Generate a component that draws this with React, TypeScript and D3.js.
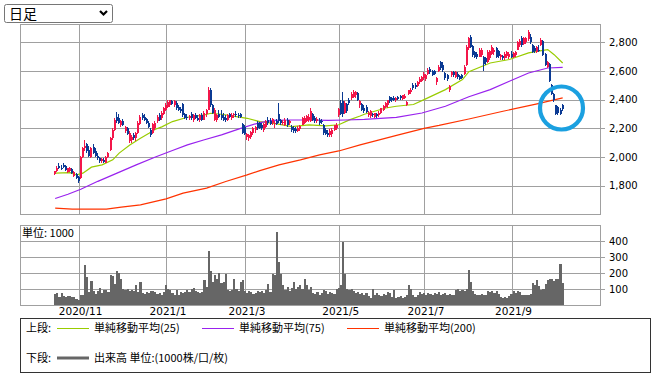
import React from "react";
import * as d3 from "d3";

// daily candles [open, high, low, close], 2020/10/16 .. 2021/10/07 (trading days)
const candles: [number, number, number, number][] = [
  [1880,1905,1875,1900],[1900,1935,1895,1925],[1935,1955,1915,1920],[1925,1945,1910,1915],[1945,1960,1925,1930],[1935,1945,1905,1910],[1895,1925,1890,1920],[1900,1930,1895,1925],[1915,1920,1880,1885],[1870,1900,1860,1895],
  [1880,1885,1845,1850],[1860,1870,1820,1835],[1850,2010,1845,2000],[2000,2070,1990,2060],[2060,2120,2040,2080],[2090,2100,2030,2040],[2050,2080,2000,2010],[2000,2070,1995,2060],[2070,2090,2020,2030],[2040,2060,2000,2010],
  [2010,2030,1980,1990],[1995,2000,1960,1970],[1975,1995,1955,1985],[1980,1995,1960,1965],[1960,2010,1955,2000],[2000,2035,1990,2030],[2050,2140,2045,2130],[2130,2200,2120,2190],[2190,2270,2180,2260],[2280,2315,2240,2250],
  [2270,2300,2230,2240],[2220,2260,2210,2250],[2250,2265,2215,2225],[2180,2215,2170,2210],[2200,2210,2150,2160],[2110,2180,2100,2170],[2120,2150,2100,2140],[2150,2170,2120,2130],[2130,2175,2110,2165],[2170,2250,2160,2240],
  [2230,2290,2220,2280],[2290,2310,2260,2270],[2280,2300,2250,2260],[2265,2275,2230,2240],[2240,2250,2200,2210],[2190,2200,2140,2150],[2170,2240,2160,2230],[2200,2250,2190,2240],[2250,2290,2240,2280],[2295,2310,2250,2260],
  [2270,2320,2260,2310],[2300,2350,2295,2340],[2330,2375,2320,2360],[2350,2395,2340,2385],[2360,2400,2350,2395],[2390,2400,2360,2370],[2360,2395,2350,2390],[2380,2390,2330,2340],[2350,2365,2320,2330],[2335,2350,2310,2320],
  [2370,2380,2280,2290],[2300,2310,2265,2275],[2280,2300,2260,2270],[2270,2290,2255,2285],[2300,2315,2260,2270],[2260,2300,2245,2290],[2290,2305,2265,2275],[2270,2295,2250,2260],[2255,2300,2245,2290],[2290,2305,2250,2260],
  [2260,2320,2255,2310],[2300,2335,2280,2325],[2330,2490,2325,2470],[2470,2480,2350,2360],[2360,2370,2300,2310],[2260,2340,2250,2330],[2255,2300,2245,2290],[2300,2330,2270,2280],[2290,2330,2260,2270],[2280,2310,2250,2260],
  [2270,2290,2245,2255],[2260,2300,2250,2290],[2300,2310,2270,2280],[2270,2305,2260,2295],[2290,2310,2270,2300],[2300,2320,2280,2290],[2295,2310,2275,2285],[2300,2310,2270,2280],[2230,2240,2160,2170],[2210,2225,2150,2160],
  [2140,2170,2120,2160],[2130,2160,2110,2150],[2140,2180,2125,2175],[2165,2210,2155,2200],[2190,2215,2170,2210],[2240,2250,2190,2200],[2235,2245,2195,2205],[2220,2240,2190,2200],[2190,2240,2175,2230],[2210,2260,2200,2250],
  [2260,2280,2225,2235],[2250,2270,2220,2230],[2240,2275,2225,2265],[2230,2250,2200,2240],[2250,2265,2220,2230],[2300,2375,2240,2250],[2255,2265,2225,2235],[2240,2255,2220,2245],[2225,2270,2215,2260],[2255,2270,2210,2220],
  [2240,2260,2225,2250],[2210,2225,2175,2185],[2200,2215,2165,2180],[2195,2210,2170,2180],[2180,2215,2175,2205],[2195,2225,2180,2215],[2225,2280,2220,2270],[2240,2285,2230,2275],[2250,2295,2245,2285],[2260,2300,2245,2280],
  [2250,2340,2245,2320],[2300,2310,2250,2260],[2270,2285,2240,2250],[2250,2280,2235,2265],[2260,2270,2225,2240],[2250,2265,2230,2245],[2225,2230,2155,2165],[2190,2200,2150,2160],[2170,2185,2140,2150],[2150,2195,2140,2180],
  [2160,2200,2140,2190],[2190,2225,2180,2220],[2200,2235,2190,2225],[2290,2345,2280,2335],[2380,2395,2290,2300],[2390,2450,2280,2300],[2310,2390,2300,2380],[2370,2380,2310,2320],[2400,2410,2365,2375],[2410,2450,2400,2440],
  [2420,2465,2410,2455],[2430,2460,2415,2450],[2445,2450,2390,2400],[2360,2400,2340,2390],[2370,2380,2320,2330],[2340,2360,2310,2320],[2350,2365,2305,2315],[2290,2320,2280,2310],[2285,2330,2275,2320],[2300,2310,2280,2290],
  [2280,2310,2270,2305],[2300,2305,2275,2285],[2290,2320,2280,2310],[2310,2345,2300,2340],[2330,2365,2320,2355],[2350,2385,2340,2375],[2360,2400,2345,2395],[2420,2425,2380,2390],[2410,2420,2385,2395],[2415,2425,2390,2400],
  [2395,2420,2385,2410],[2420,2425,2395,2405],[2425,2430,2400,2410],[2405,2435,2400,2430],[2415,2440,2405,2425],[2360,2390,2355,2385],[2440,2470,2435,2465],[2450,2480,2440,2470],[2505,2515,2470,2480],[2500,2515,2475,2490],
  [2495,2530,2490,2525],[2520,2555,2510,2545],[2530,2565,2520,2560],[2550,2590,2540,2580],[2545,2580,2530,2575],[2580,2620,2575,2610],[2615,2625,2580,2590],[2600,2610,2565,2575],[2600,2605,2570,2580],[2520,2560,2500,2550],
  [2600,2640,2595,2630],[2660,2670,2610,2620],[2640,2660,2595,2605],[2585,2590,2540,2550],[2575,2580,2530,2545],[2465,2500,2455,2495],[2570,2600,2560,2595],[2590,2600,2560,2570],[2560,2600,2550,2590],[2580,2590,2545,2555],
  [2565,2575,2535,2545],[2570,2580,2545,2550],[2580,2640,2570,2630],[2640,2780,2635,2770],[2760,2840,2750,2830],[2840,2850,2760,2770],[2775,2780,2700,2710],[2730,2740,2690,2700],[2720,2730,2685,2695],[2700,2760,2695,2750],
  [2710,2760,2700,2745],[2700,2705,2600,2650],[2690,2700,2640,2660],[2660,2745,2655,2735],[2690,2750,2680,2740],[2720,2780,2710,2770],[2735,2760,2710,2750],[2760,2765,2690,2700],[2740,2750,2690,2705],[2700,2720,2680,2710],
  [2705,2715,2675,2690],[2690,2730,2680,2720],[2705,2740,2690,2730],[2700,2730,2685,2720],[2720,2740,2690,2700],[2700,2730,2690,2725],[2715,2740,2700,2735],[2750,2810,2745,2800],[2780,2820,2770,2810],[2830,2845,2770,2780],
  [2790,2840,2780,2830],[2800,2840,2790,2830],[2820,2885,2810,2875],[2840,2860,2790,2800],[2780,2785,2725,2735],[2760,2775,2725,2740],[2730,2775,2725,2765],[2750,2780,2730,2740],[2780,2830,2775,2815],[2810,2815,2705,2715],
  [2720,2725,2635,2645],[2630,2670,2620,2660],[2650,2655,2520,2530],[2505,2510,2430,2440],[2440,2445,2385,2395],[2360,2365,2290,2300],[2350,2355,2295,2310],[2330,2340,2290,2300],[2365,2370,2320,2335],
];

// volume, 1000 shares
const volumes: number[] = [
  70,72,50,78,55,52,58,55,48,52,
  40,33,60,65,250,175,80,148,90,70,
  85,108,75,92,95,80,190,180,130,215,
  200,165,100,95,100,90,95,85,125,80,
  145,75,70,80,75,85,90,80,70,75,
  65,80,125,100,95,75,65,95,60,80,
  75,80,95,80,100,105,85,80,75,80,
  155,112,340,212,145,185,165,200,135,145,
  195,95,90,95,160,100,90,145,158,85,
  75,90,80,70,75,90,80,90,75,95,
  130,80,196,185,456,270,196,125,95,112,
  90,105,145,100,110,125,100,165,125,95,
  110,75,70,80,65,75,96,85,70,80,
  75,70,100,105,122,394,196,100,95,100,
  90,75,80,70,75,65,75,55,45,100,
  60,75,65,55,70,60,80,75,50,96,
  45,50,55,45,50,60,127,100,60,50,
  65,80,70,75,65,75,70,65,75,70,
  80,65,70,75,65,70,60,65,95,100,
  90,95,90,100,216,145,90,70,65,60,
  70,65,60,85,80,90,75,85,70,50,
  45,50,45,55,70,85,75,87,80,65,
  60,65,60,66,137,125,154,116,92,100,
  133,154,165,160,150,165,160,258,140,
];

// moving averages: [day, value]
const ma25: [number, number][] = [
  [0,1887],[7,1891],[10,1875],[13,1887],[17,1929],[22,1945],[27,1980],[30,2027],[35,2084],[40,2131],[44,2166],[47,2194],
  [50,2210],[55,2247],[62,2277],[70,2294],[73,2305],[78,2298],[85,2282],[90,2270],[96,2247],[104,2231],[111,2212],[119,2224],
  [127,2217],[133,2225],[138,2259],[143,2286],[145,2298],[155,2342],[160,2354],[168,2366],[173,2400],[183,2470],[191,2540],
  [194,2595],[204,2656],[213,2680],[222,2726],[228,2742],[231,2749],[234,2714],[238,2656],
];
const ma75: [number, number][] = [
  [0,1710],[6,1740],[12,1775],[20,1830],[29,1887],[38,1945],[47,2000],[55,2045],[62,2084],[70,2120],[78,2154],[87,2200],
  [96,2240],[102,2255],[110,2258],[120,2258],[128,2255],[136,2258],[145,2262],[160,2277],[172,2307],[183,2354],[194,2420],
  [204,2470],[213,2528],[222,2586],[231,2621],[238,2625],
];
const ma200: [number, number][] = [
  [0,1643],[8,1636],[24,1636],[31,1650],[40,1666],[52,1708],[60,1748],[71,1783],[80,1829],[90,1875],[96,1905],[105,1945],
  [115,1980],[124,2015],[133,2042],[143,2084],[152,2119],[161,2154],[173,2200],[180,2220],[194,2265],[210,2319],[226,2370],[238,2412],
];

const monthTicks: { label: string; day: number }[] = [
  { label: "2020/11", day: 11 },
  { label: "2021/1", day: 52 },
  { label: "2021/3", day: 89 },
  { label: "2021/5", day: 133 },
  { label: "2021/7", day: 173 },
  { label: "2021/9", day: 214 },
];
const priceTicks = [1800, 2000, 2200, 2400, 2600, 2800];
const volumeTicks = [100, 200, 300, 400];

const UP = "#f3164a";
const DOWN = "#0b3a94";
const GRID = "#a0a0a0";
const FONT = "'DejaVu Sans', Verdana, sans-serif";
const JFONT = "'Noto Sans CJK JP', 'DejaVu Sans', sans-serif";

const W = 657;
const H = 375;
const L = 20;
const R = 600;

export default function App() {
  const x = d3.scaleLinear().domain([-16.5, 255.5]).range([L, R]);
  const y = d3.scaleLinear().domain([1602, 2928]).range([214, 24]);
  const yv = d3.scaleLinear().domain([0, 500]).range([305, 225]);
  const step = x(1) - x(0);
  const px = (v: number) => Math.round(v) + 0.5;

  const line = d3
    .line<[number, number]>()
    .x((d) => x(d[0]))
    .y((d) => y(d[1]));

  const mas = [
    { data: ma25, color: "#99cc00", label: "単純移動平均(25)" },
    { data: ma75, color: "#9922ee", label: "単純移動平均(75)" },
    { data: ma200, color: "#ff3300", label: "単純移動平均(200)" },
  ];

  return (
    <svg
      width={W}
      height={H}
      style={{ position: "absolute", left: 0, top: 0, background: "#fff" }}
    >
      {/* dropdown */}
      <rect x={4.5} y={4.5} width={108} height={18} rx={2} fill="#fff" stroke="#767676" />
      <text x={9} y={19} fontSize={14} fontFamily={JFONT} fill="#000">日足</text>
      <path d="M100,11 L103.5,14.5 L107,11" fill="none" stroke="#000" strokeWidth={2.2} />

      {/* price panel grid */}
      <g stroke={GRID} strokeWidth={1.3} shapeRendering="crispEdges">
        {priceTicks.map((t) => (
          <line key={t} x1={L} x2={R + 5} y1={px(y(t))} y2={px(y(t))} />
        ))}
        {monthTicks.map((m) => (
          <line key={m.label} x1={px(x(m.day))} x2={px(x(m.day))} y1={24} y2={214} />
        ))}
        <rect x={L + 0.5} y={24.5} width={R - L} height={190} fill="none" />
      </g>

      {/* volume panel grid */}
      <g stroke={GRID} strokeWidth={1} shapeRendering="crispEdges">
        {volumeTicks.map((t) => (
          <line key={t} x1={L} x2={R + 5} y1={px(yv(t))} y2={px(yv(t))} />
        ))}
        {monthTicks.map((m) => (
          <line key={m.label} x1={px(x(m.day))} x2={px(x(m.day))} y1={225} y2={305} />
        ))}
        <rect x={L + 0.5} y={225.5} width={R - L} height={80} fill="none" />
      </g>

      {/* volume bars */}
      <g fill="#666" shapeRendering="crispEdges">
        {volumes.map((v, i) => (
          <rect key={i} x={x(i) - step / 2} width={step} y={yv(v)} height={yv(0) - yv(v)} />
        ))}
      </g>

      {/* moving averages */}
      <g fill="none" strokeWidth={1.2}>
        {mas.map((m) => (
          <path key={m.label} d={line(m.data) || ""} stroke={m.color} />
        ))}
      </g>

      {/* candles */}
      <g shapeRendering="crispEdges">
        {candles.map(([o, h, l, c], i) => {
          const cx = Math.round(x(i));
          const col = c >= o ? UP : DOWN;
          const top = y(Math.max(o, c));
          const hgt = Math.max(1, Math.abs(y(o) - y(c)));
          return (
            <g key={i}>
              <line x1={cx - 0.5} x2={cx - 0.5} y1={y(h)} y2={y(l)} stroke={col} />
              <rect x={cx - 1} width={2} y={top} height={hgt} fill={col} />
            </g>
          );
        })}
      </g>

      {/* highlight */}
      <circle cx={561.5} cy={108} r={21.5} fill="none" stroke="#1ba0e0" strokeWidth={4.2} />

      {/* axis labels */}
      <g fontFamily={FONT} fontSize={10} fill="#000">
        {priceTicks.map((t) => (
          <text key={t} x={609} y={y(t) + 3.7}>{d3.format(",")(t)}</text>
        ))}
        {volumeTicks.map((t) => (
          <text key={t} x={609} y={yv(t) + 3.7}>{t}</text>
        ))}
      </g>
      <g fontFamily={FONT} fontSize={10.5} fill="#000" textAnchor="middle">
        {monthTicks.map((m) => (
          <text key={m.label} x={x(m.day) + 2} y={315}>{m.label}</text>
        ))}
      </g>
      <text x={22} y={237} fontFamily={JFONT} fontSize={11} fill="#000">単位: 1000</text>

      {/* legend */}
      <rect x={20.5} y={318.5} width={630} height={54} fill="#fff" stroke="#333" />
      <g fontFamily={JFONT} fontSize={11} fill="#000">
        <text x={26} y={332}>上段:</text>
        {mas.map((m, k) => {
          const x0 = 57 + k * 145;
          return (
            <g key={m.label}>
              <line x1={x0} x2={x0 + 32} y1={328.5} y2={328.5} stroke={m.color} />
              <text x={x0 + 37} y={332}>{m.label}</text>
            </g>
          );
        })}
        <text x={26} y={362}>下段:</text>
        <line x1={57} x2={89} y1={358} y2={358} stroke="#666" strokeWidth={3} />
        <text x={94} y={362}>出来高 単位:(1000株/口/枚)</text>
      </g>
    </svg>
  );
}
